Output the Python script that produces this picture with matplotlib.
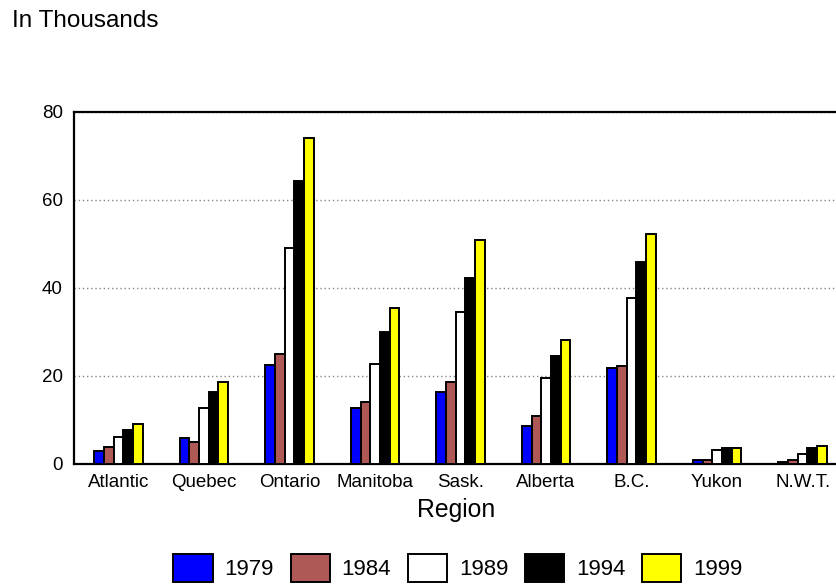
import numpy as np
import matplotlib
matplotlib.use('Agg')
import matplotlib.pyplot as plt
from matplotlib.patches import Patch

plt.rc('font', family=['Liberation Sans', 'DejaVu Sans'])

# Values in thousands, by region and year
regions = ['Atlantic', 'Quebec', 'Ontario', 'Manitoba', 'Sask.', 'Alberta', 'B.C.', 'Yukon', 'N.W.T.']
years = ['1979', '1984', '1989', '1994', '1999']
v1979 = [3.0, 5.8, 22.6, 12.7, 16.3, 8.6, 21.8, 0.8, 0.5]
v1984 = [3.9, 4.9, 25.0, 14.0, 18.6, 10.9, 22.2, 0.8, 0.8]
v1989 = [6.2, 12.7, 49.2, 22.7, 34.6, 19.6, 37.7, 3.1, 2.3]
v1994 = [7.7, 16.4, 64.3, 30.1, 42.3, 24.6, 46.0, 3.6, 3.6]
v1999 = [9.1, 18.6, 74.1, 35.4, 50.9, 28.2, 52.3, 3.6, 4.0]
series = [v1979, v1984, v1989, v1994, v1999]
colors = ['#0000FF', '#AF5957', '#FFFFFF', '#000000', '#FFFF00']

fig = plt.figure(figsize=(8.36, 5.85), dpi=100)
ax = fig.add_axes([74/836, 121/585, 1 - 74/836, 352/585])

x = np.arange(len(regions))
w = 0.113
for i, (vals, c) in enumerate(zip(series, colors)):
    ax.bar(x + (i - 2)*w, vals, w, color=c, edgecolor='black', linewidth=1.4, zorder=3)

ax.set_ylim(0, 80)
ax.set_xlim(-0.52, 8.39)
ax.set_yticks([0, 20, 40, 60, 80])
ax.set_xticks(x)
ax.set_xticklabels(regions)
ax.tick_params(axis='both', length=0, labelsize=13.5)
ax.tick_params(axis='y', pad=8)
ax.tick_params(axis='x', pad=7.5)
ax.yaxis.grid(True, linestyle=(0, (1, 2)), color='#888888', linewidth=1)
ax.spines['right'].set_visible(False)
for s in ['left', 'top', 'bottom']:
    ax.spines[s].set_linewidth(1.6)

fig.text(12/836, 1 - 27/585, 'In Thousands', fontsize=17.5, va='baseline', ha='left')
fig.text(456/836, 1 - 517/585, 'Region', fontsize=17.8, va='baseline', ha='center')

handles = [Patch(facecolor=c, edgecolor='black', linewidth=1.4) for c in colors]
fig.legend(handles, years, loc='center', bbox_to_anchor=(458/836, 1 - 568/585),
           ncol=5, frameon=False, fontsize=16, handlelength=1.76, handleheight=1.5,
           handletextpad=0.54, columnspacing=0.75, borderpad=0.2)

plt.savefig('out.png')
